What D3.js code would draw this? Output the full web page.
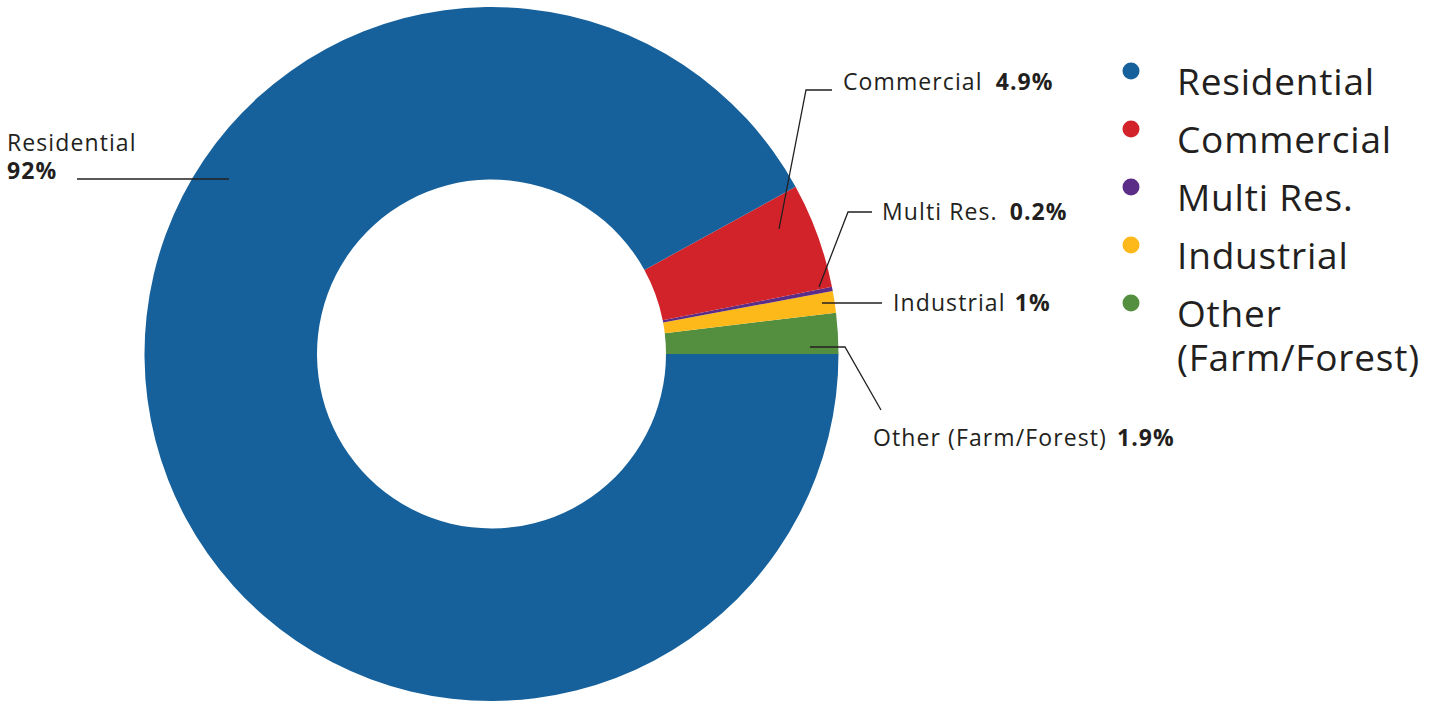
<!DOCTYPE html>
<html>
<head>
<meta charset="utf-8">
<script src="https://cdn.jsdelivr.net/npm/d3@7"></script>
<style>
  html, body { margin: 0; padding: 0; background: #fff; }
  svg { display: block; font-family: "Open Sans", "Noto Sans", sans-serif; }
</style>
</head>
<body>
<svg id="chart" width="1455" height="702"></svg>
<script>
// Land use share by category (percent)
const categories = ["Other (Farm/Forest)", "Industrial", "Multi Res.", "Commercial", "Residential"];
const values = [1.9, 1, 0.2, 4.9, 92];
const valueLabels = ["1.9%", "1%", "0.2%", "4.9%", "92%"];
const colors = ["#548e3f", "#fdb91a", "#5b2d86", "#d2232a", "#16619b"];

// Legend order
const legendItems = ["Residential", "Commercial", "Multi Res.", "Industrial", "Other\n(Farm/Forest)"];
const legendColors = ["#16619b", "#d2232a", "#5b2d86", "#fdb91a", "#548e3f"];

const svg = d3.select("#chart");
const cx = 491.5, cy = 354, outerR = 347, innerR = 174.5;
const textColor = "#231f20";

const data = categories.map((c, i) => ({ name: c, value: values[i], label: valueLabels[i], color: colors[i] }));

// Slices run counter-clockwise starting at 3 o'clock
const pie = d3.pie().sort(null).value(d => d.value)
  .startAngle(Math.PI / 2).endAngle(Math.PI / 2 - 2 * Math.PI);
const arc = d3.arc().innerRadius(innerR).outerRadius(outerR);

const g = svg.append("g").attr("transform", `translate(${cx},${cy})`);
g.selectAll("path").data(pie(data)).join("path")
  .attr("d", arc)
  .attr("fill", d => d.data.color);

// Callout labels: leader line points, text placement and gap before the value
const callouts = {
  "Residential":         { pts: [[229, 179], [77, 179]], tx: 7, ty: 151, twoLine: true },
  "Commercial":          { pts: [[779, 229], [806, 90], [832, 90]], tx: 843, ty: 90, gap: 13 },
  "Multi Res.":          { pts: [[819, 287], [848, 212], [872, 212]], tx: 882, ty: 220, gap: 12 },
  "Industrial":          { pts: [[822, 303], [882, 303]], tx: 893, ty: 311, gap: 9 },
  "Other (Farm/Forest)": { pts: [[810, 347], [845, 347], [881, 410]], tx: 873, ty: 446, gap: 10 }
};

const labelG = svg.append("g");
data.forEach(d => {
  const c = callouts[d.name];
  labelG.append("path")
    .attr("d", d3.line()(c.pts))
    .attr("fill", "none")
    .attr("stroke", textColor)
    .attr("stroke-width", 1.3);
  const t = labelG.append("text")
    .attr("x", c.tx).attr("y", c.ty)
    .attr("fill", textColor)
    .attr("font-size", 23)
    .attr("letter-spacing", 1.1);
  if (c.twoLine) {
    t.append("tspan").text(d.name);
    t.append("tspan").attr("x", c.tx).attr("dy", 28).attr("font-weight", 700).text(d.label);
  } else {
    t.append("tspan").text(d.name);
    t.append("tspan").attr("dx", c.gap).attr("font-weight", 700).text(d.label);
  }
});

// Legend
const legend = svg.append("g");
legendItems.forEach((name, i) => {
  const y = 71 + i * 58;
  legend.append("circle").attr("cx", 1131).attr("cy", y).attr("r", 8.5).attr("fill", legendColors[i]);
  name.split("\n").forEach((line, j) => {
    legend.append("text")
      .attr("x", 1177).attr("y", y + 24 + j * 44)
      .attr("fill", textColor).attr("font-size", 37)
      .attr("letter-spacing", 0.8)
      .text(line);
  });
});
</script>
</body>
</html>
